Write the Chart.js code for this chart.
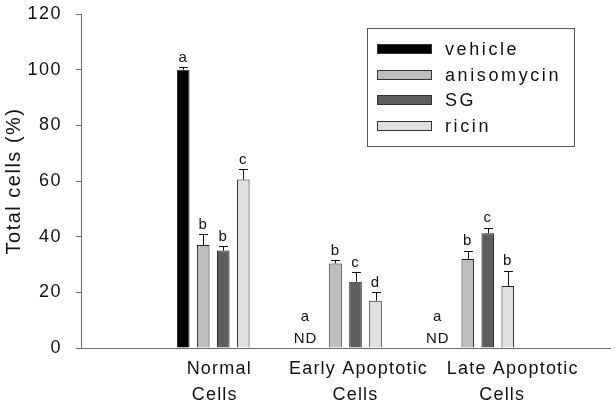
<!DOCTYPE html>
<html>
<head>
<meta charset="utf-8">
<script src="https://cdn.jsdelivr.net/npm/chart.js@4.4.1/dist/chart.umd.min.js"></script>
<style>
  body { margin: 0; background: #fff; }
  #wrap { width: 616px; height: 408px; }
</style>
</head>
<body>
<div id="wrap"><canvas id="cellsChart" width="616" height="408"></canvas></div>
<script>
// ========== DATA ==========
// blank first/last slots keep the groups at the same spots as the original axis
const categories = ['', ['Normal', 'Cells'], ['Early Apoptotic', 'Cells'], ['Late Apoptotic', 'Cells'], ''];
const seriesNames = ['vehicle', 'anisomycin', 'SG', 'ricin'];

const vehicle = [null, 100, null, null, null];
const anisomycin = [null, 37, 30.4, 32, null];
const sg = [null, 35, 23.8, 41.2, null];
const ricin = [null, 60.5, 17, 22.3, null];

const vehicleErr = [0, 1, 0, 0, 0];
const anisomycinErr = [0, 4, 1.1, 3, 0];
const sgErr = [0, 1.5, 3.4, 2, 0];
const ricinErr = [0, 3.8, 3, 5.5, 0];

const vehicleSig = ['', 'a', 'a', 'a', ''];
const anisomycinSig = ['', 'b', 'b', 'b', ''];
const sgSig = ['', 'b', 'c', 'c', ''];
const ricinSig = ['', 'c', 'd', 'b', ''];

const yTicks = [0, 20, 40, 60, 80, 100, 120];

const colors = ['#000000', '#bdbdbd', '#5e5e5e', '#e0e0e0'];
const AXIS = '#6a6a6a';
const FONT = '"Liberation Sans", Arial, sans-serif';

// ========== ERROR BARS + LETTERS ==========
const errorBarPlugin = {
  id: 'errorBars',
  afterDatasetsDraw(chart) {
    const ctx = chart.ctx;
    const y = chart.scales.y;
    ctx.save();
    ctx.letterSpacing = '1px';
    ctx.strokeStyle = '#111';
    ctx.lineWidth = 1;
    ctx.fillStyle = '#111';
    ctx.font = '15px ' + FONT;
    ctx.textAlign = 'center';
    chart.data.datasets.forEach((ds, di) => {
      const meta = chart.getDatasetMeta(di);
      meta.data.forEach((bar, i) => {
        const v = ds.data[i];
        const sig = ds.sig[i];
        if (v === null) {
          if (sig) {
            // not detected
            const base = y.getPixelForValue(0);
            ctx.textBaseline = 'middle';
            ctx.fillText(sig, bar.x - 10, base - 31);
            ctx.fillText('ND', bar.x - 10, base - 9);
          }
          return;
        }
        const top = y.getPixelForValue(v + ds.err[i]);
        const x = Math.round(bar.x) + 0.5;
        ctx.beginPath();
        ctx.moveTo(x, bar.y);
        ctx.lineTo(x, Math.round(top) + 0.5);
        ctx.moveTo(x - 4.5, Math.round(top) + 0.5);
        ctx.lineTo(x + 4.5, Math.round(top) + 0.5);
        ctx.stroke();
        ctx.textBaseline = 'bottom';
        ctx.fillText(sig, bar.x, top - 2);
      });
    });
    ctx.restore();
  }
};

// ========== X LABELS (the original sets them off to the right) ==========
const xLabelPlugin = {
  id: 'xLabels',
  afterDraw(chart) {
    const ctx = chart.ctx;
    const x = chart.scales.x;
    const shift = [[0, 0], [6, 1.5], [13, 10], [35, 24.5], [0, 0]];
    ctx.save();
    ctx.font = '18px ' + FONT;
    ctx.letterSpacing = '1.2px';
    ctx.fillStyle = '#111';
    ctx.textAlign = 'center';
    ctx.textBaseline = 'middle';
    chart.data.labels.forEach((lab, i) => {
      if (!lab) return;
      const px = x.getPixelForValue(i);
      lab.forEach((line, j) => {
        ctx.fillText(line, px + shift[i][j], x.bottom - 39 + j * 26);
      });
    });
    ctx.restore();
  }
};

// ========== LEGEND BOX ==========
const legendBoxPlugin = {
  id: 'legendBox',
  afterDraw(chart) {
    const ctx = chart.ctx;
    ctx.save();
    ctx.strokeStyle = '#555';
    ctx.lineWidth = 1;
    ctx.strokeRect(367.5, 28.5, 207, 118);
    ctx.font = '18px ' + FONT;
    ctx.letterSpacing = '2.6px';
    ctx.textBaseline = 'middle';
    ctx.textAlign = 'left';
    seriesNames.forEach((name, i) => {
      const cy = 49 + i * 25.7;
      ctx.fillStyle = colors[i];
      ctx.fillRect(377, Math.round(cy) - 5, 55, 10);
      ctx.strokeStyle = '#333';
      ctx.strokeRect(377.5, Math.round(cy) - 4.5, 54, 9);
      ctx.fillStyle = '#111';
      ctx.fillText(name, 445, cy + 1);
    });
    ctx.restore();
  }
};

// wider text, like the original
const spacingPlugin = {
  id: 'spacing',
  beforeDraw(chart) { chart.ctx.letterSpacing = '1.5px'; }
};

// ========== CHART ==========
function initCellsChart() {
  const el = document.getElementById('cellsChart');
  const series = [vehicle, anisomycin, sg, ricin];
  const errs = [vehicleErr, anisomycinErr, sgErr, ricinErr];
  const sigs = [vehicleSig, anisomycinSig, sgSig, ricinSig];

  new Chart(el.getContext('2d'), {
    type: 'bar',
    data: {
      labels: categories,
      datasets: series.map((d, i) => ({
        label: seriesNames[i],
        data: d,
        err: errs[i],
        sig: sigs[i],
        backgroundColor: colors[i],
        borderColor: '#222',
        borderWidth: 1,
        categoryPercentage: 0.605,
        barPercentage: 0.63
      }))
    },
    options: {
      responsive: false,
      animation: false,
      layout: { padding: { top: 14, right: 6, left: 0, bottom: 0 } },
      plugins: {
        legend: { display: false },
        tooltip: { enabled: false }
      },
      scales: {
        x: {
          offset: false,
          grid: { display: false },
          border: { display: true, color: AXIS, width: 1 },
          ticks: { display: false },
          afterFit: s => { s.height = 60; s.paddingLeft = 0; s.paddingRight = 0; }
        },
        y: {
          min: 0,
          max: 120,
          afterBuildTicks: s => { s.ticks = yTicks.map(v => ({ value: v })); },
          grid: { drawOnChartArea: false, drawTicks: true, tickLength: 5, color: AXIS },
          border: { display: true, color: AXIS, width: 1 },
          ticks: {
            color: '#111',
            font: { family: FONT, size: 18 },
            padding: 14
          },
          title: {
            display: true,
            text: 'Total cells (%)',
            color: '#111',
            font: { family: FONT, size: 20 },
            padding: { top: 2, bottom: 0 }
          },
          afterFit: s => { s.width = 81; s.paddingTop = 0; s.paddingBottom = 0; }
        }
      }
    },
    plugins: [spacingPlugin, errorBarPlugin, xLabelPlugin, legendBoxPlugin]
  });
}

initCellsChart();
</script>
</body>
</html>
